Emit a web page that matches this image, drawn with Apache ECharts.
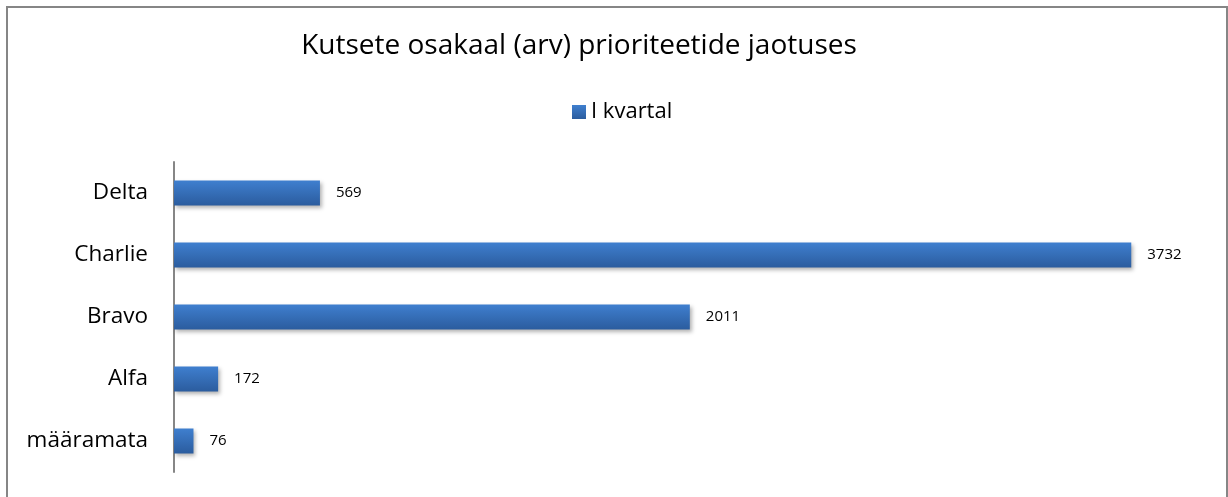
<!DOCTYPE html>
<html>
<head>
<meta charset="utf-8">
<script src="https://cdn.jsdelivr.net/npm/echarts@6/dist/echarts.min.js"></script>
<style>
  html, body { margin: 0; padding: 0; background: #fff; }
  #chart { width: 1228px; height: 497px; }
</style>
</head>
<body>
<div id="chart"></div>
<script>
const categories = ['määramata', 'Alfa', 'Bravo', 'Charlie', 'Delta'];
const values = [76, 172, 2011, 3732, 569];
const seriesName = 'I kvartal';
const titleText = 'Kutsete osakaal (arv) prioriteetide jaotuses';

const chart = echarts.init(document.getElementById('chart'));
const font = '"Open Sans", Lato, sans-serif';

const option = {
    backgroundColor: '#fff',
    animation: false,
    title: {
        text: titleText,
        left: 574,
        top: 27,
        textAlign: 'center',
        textStyle: { fontFamily: font, fontSize: 28, fontWeight: 'normal', color: '#000' }
    },
    legend: {
        data: [seriesName],
        left: 567,
        top: 96,
        icon: 'rect',
        itemWidth: 14,
        itemHeight: 14,
        itemGap: 6,
        textStyle: { fontFamily: font, fontSize: 22, color: '#000' }
    },
    grid: {
        left: 174,
        right: 28,
        top: 162,
        bottom: 25
    },
    xAxis: {
        type: 'value',
        min: 0,
        max: 4000,
        show: false
    },
    yAxis: {
        type: 'category',
        data: categories,
        axisLine: { show: true, lineStyle: { color: '#868686', width: 2 } },
        axisTick: { show: false },
        axisLabel: { fontFamily: font, fontSize: 22.5, color: '#000', margin: 26 }
    },
    series: [{
        name: seriesName,
        type: 'bar',
        data: values,
        barWidth: 25,
        itemStyle: {
            color: new echarts.graphic.LinearGradient(0, 0, 0, 1, [
                { offset: 0, color: '#3f7fcf' },
                { offset: 1, color: '#2b5c9e' }
            ]),
            shadowColor: 'rgba(0,0,0,0.3)',
            shadowBlur: 4,
            shadowOffsetX: 2,
            shadowOffsetY: 2
        },
        label: {
            show: true,
            position: 'right',
            distance: 16,
            fontFamily: font,
            fontSize: 15,
            color: '#000'
        }
    }],
    graphic: [{
        type: 'rect',
        shape: { x: 7, y: 7, width: 1220, height: 500 },
        style: { fill: 'none', stroke: '#868686', lineWidth: 2 },
        silent: true
    }]
};

chart.setOption(option);
</script>
</body>
</html>
